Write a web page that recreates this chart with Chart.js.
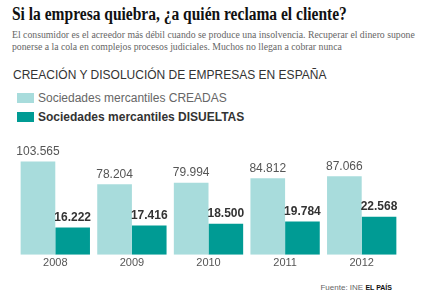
<!DOCTYPE html>
<html>
<head>
<meta charset="utf-8">
<script src="https://cdn.jsdelivr.net/npm/chart.js@4"></script>
<style>
  body { margin: 0; width: 447px; height: 307px; background: #fff; position: relative; overflow: hidden; font-family: "Liberation Sans", Arial, sans-serif; }
  .abs { position: absolute; white-space: nowrap; }
  #title { left: 12px; top: 5px; font: bold 18px/18px "Liberation Serif", serif; color: #111; transform-origin: left top; }
  .sub { left: 12px; font: 10px/12px "Liberation Serif", serif; color: #666; transform-origin: left top; }
  #chartTitle { left: 13px; top: 68px; font-size: 12px; line-height: 14px; color: #333; }
  .leg { left: 17px; font-size: 12px; line-height: 14px; }
  .leg span.box { display: inline-block; width: 17px; height: 10px; margin-right: 4px; vertical-align: -1px; }
  #source { right: 55px; top: 283px; font-size: 8px; color: #666; }
  #source b { color: #111; font-size: 7px; }
  #wrap { position: absolute; left: 0; top: 140px; width: 447px; height: 135px; }
</style>
</head>
<body>
<div id="title" class="abs">Si la empresa quiebra, ¿a quién reclama el cliente?</div>
<div id="sub1" class="abs sub" style="top:29px">El consumidor es el acreedor más débil cuando se produce una insolvencia. Recuperar el dinero supone</div>
<div id="sub2" class="abs sub" style="top:41px">ponerse a la cola en complejos procesos judiciales. Muchos no llegan a cobrar nunca</div>
<div id="chartTitle" class="abs">CREACIÓN Y DISOLUCIÓN DE EMPRESAS EN ESPAÑA</div>
<div class="abs leg" style="top:91px;color:#666"><span class="box" style="background:#a8dcdc"></span>Sociedades mercantiles CREADAS</div>
<div class="abs leg" style="top:110px;color:#333;font-weight:bold"><span class="box" style="background:#009b94"></span>Sociedades mercantiles DISUELTAS</div>
<div id="source" class="abs">Fuente: INE <b>EL PAÍS</b></div>
<div id="wrap"><canvas id="chart"></canvas></div>
<script>
const years = ['2008', '2009', '2010', '2011', '2012'];
const creadas = [103565, 78204, 79994, 84812, 87066];
const disueltas = [16222, 17416, 18500, 19784, 22568];

// squeeze the serif lines to the width they have in the picture
function squeeze(id, factor) {
    document.getElementById(id).style.transform = 'scaleX(' + factor + ')';
}
squeeze('title', 335 / document.getElementById('title').offsetWidth);
const subFactor = 403 / document.getElementById('sub1').offsetWidth;
squeeze('sub1', subFactor);
squeeze('sub2', subFactor);

function fmt(v) {
    return v.toString().replace(/\B(?=(\d{3})+(?!\d))/g, '.');
}

const valueLabels = {
    id: 'valueLabels',
    afterDatasetsDraw(chart) {
        const ctx = chart.ctx;
        ctx.save();
        ctx.textAlign = 'center';
        ctx.textBaseline = 'bottom';
        chart.data.datasets.forEach((ds, i) => {
            const meta = chart.getDatasetMeta(i);
            ctx.font = (i === 1 ? 'bold ' : '') + '12px "Liberation Sans", Arial, sans-serif';
            ctx.fillStyle = i === 1 ? '#333' : '#555';
            meta.data.forEach((bar, j) => {
                ctx.fillText(fmt(ds.data[j]), bar.x, bar.y - 4);
            });
        });
        ctx.restore();
    }
};

new Chart(document.getElementById('chart'), {
    type: 'bar',
    data: {
        labels: years,
        datasets: [
            { label: 'Sociedades mercantiles CREADAS', data: creadas, backgroundColor: '#a8dcdc', yAxisID: 'y' },
            { label: 'Sociedades mercantiles DISUELTAS', data: disueltas, backgroundColor: '#009b94', yAxisID: 'y1' }
        ]
    },
    options: {
        responsive: true,
        maintainAspectRatio: false,
        animation: false,
        categoryPercentage: 0.905,
        barPercentage: 1,
        layout: { padding: { left: 17, right: 47, top: 10, bottom: 3 } },
        plugins: { legend: { display: false }, tooltip: { enabled: false } },
        scales: {
            x: {
                grid: { display: false, drawTicks: false, tickLength: 0 },
                border: { display: false },
                ticks: { color: '#555', font: { size: 11, family: '"Liberation Sans", Arial, sans-serif' }, padding: 2 }
            },
            y: { display: false, min: 0, max: 116300 },
            y1: { display: false, min: 0, max: 62200 }
        }
    },
    plugins: [valueLabels]
});
</script>
</body>
</html>
